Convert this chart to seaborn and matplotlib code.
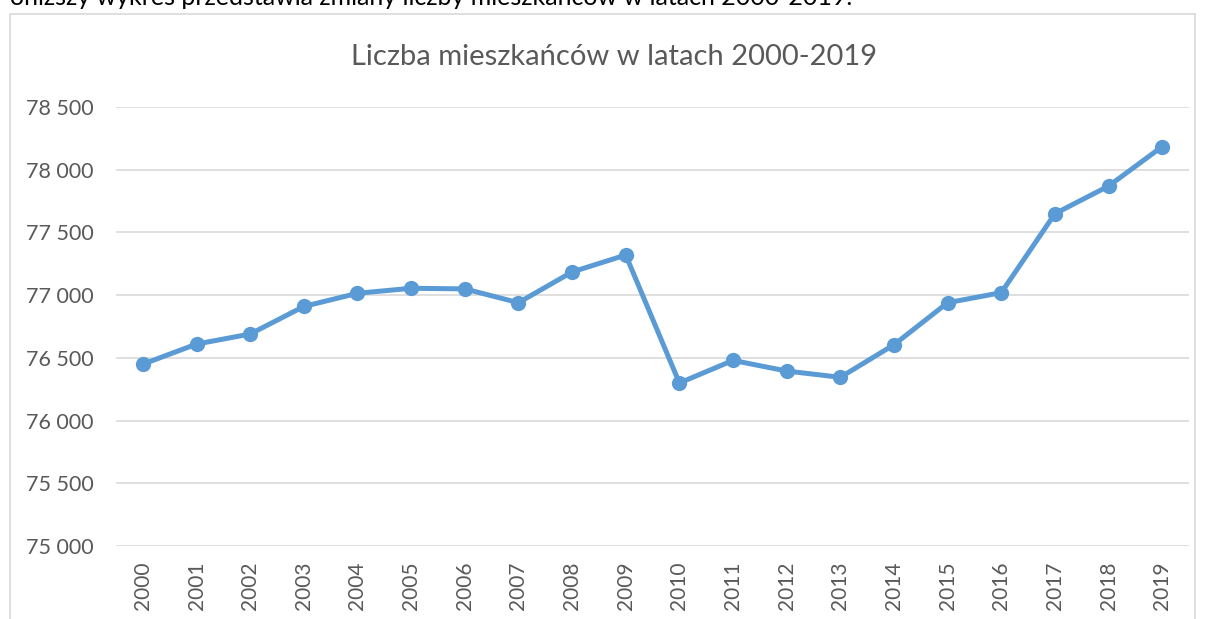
import pandas as pd
import matplotlib.pyplot as plt
import seaborn as sns
from matplotlib.patches import Rectangle
from matplotlib.ticker import FuncFormatter

years = [str(y) for y in range(2000, 2020)]
population = [76450, 76610, 76690, 76910, 77015, 77055, 77050, 76940, 77185, 77320,
              76300, 76480, 76395, 76345, 76605, 76940, 77020, 77650, 77870, 78185]
y_ticks = [75000, 75500, 76000, 76500, 77000, 77500, 78000, 78500]

TITLE = "Liczba mieszkańców w latach 2000-2019"
INTRO = "Poniższy wykres przedstawia zmiany liczby mieszkańców w latach 2000-2019."


def make_chart():
    df = pd.DataFrame({"rok": years, "mieszkancy": population})

    sns.set_style("white")
    plt.rcParams["font.family"] = ["Lato", "DejaVu Sans"]

    fig = plt.figure(figsize=(12.05, 6.19), dpi=100)
    ax = fig.add_axes([0.0963, 0.1179, 0.8905, 0.7092])

    # chart frame like in the spreadsheet
    fig.patches.append(Rectangle((10 / 1205, -0.02), 1185 / 1205, 0.02 + 1 - 14 / 619,
                                 transform=fig.transFigure, fill=False,
                                 edgecolor="#d9d9d9", linewidth=1.2))
    # intro sentence above the chart, cut off by the top edge
    fig.text(-0.004, 1 - 5 / 619, INTRO, fontsize=18, color="black", va="baseline")

    sns.lineplot(data=df, x="rok", y="mieszkancy", ax=ax, color="#5b9bd5",
                 linewidth=3.6, marker="o", markersize=11, markeredgewidth=0,
                 clip_on=False, zorder=3)

    ax.set_xlim(-0.5, len(years) - 0.5)
    ax.set_ylim(75000, 78500)
    ax.set_yticks(y_ticks)
    ax.yaxis.set_major_formatter(FuncFormatter(lambda v, p: f"{int(v):,}".replace(",", " ")))
    ax.grid(axis="y", color="#d9d9d9", linewidth=1.2)
    ax.set_axisbelow(True)
    for s in ax.spines.values():
        s.set_visible(False)
    ax.tick_params(axis="y", length=0, pad=16, labelsize=15.5, labelcolor="#595959")
    ax.tick_params(axis="x", length=0, pad=11, labelsize=15, labelcolor="#595959",
                   labelrotation=90)
    ax.set_xlabel("")
    ax.set_ylabel("")

    fig.text(614 / 1205, 1 - 57 / 619, TITLE, fontsize=21, color="#595959",
             ha="center", va="center")

    fig.savefig("out.png", dpi=100)


if __name__ == "__main__":
    make_chart()
